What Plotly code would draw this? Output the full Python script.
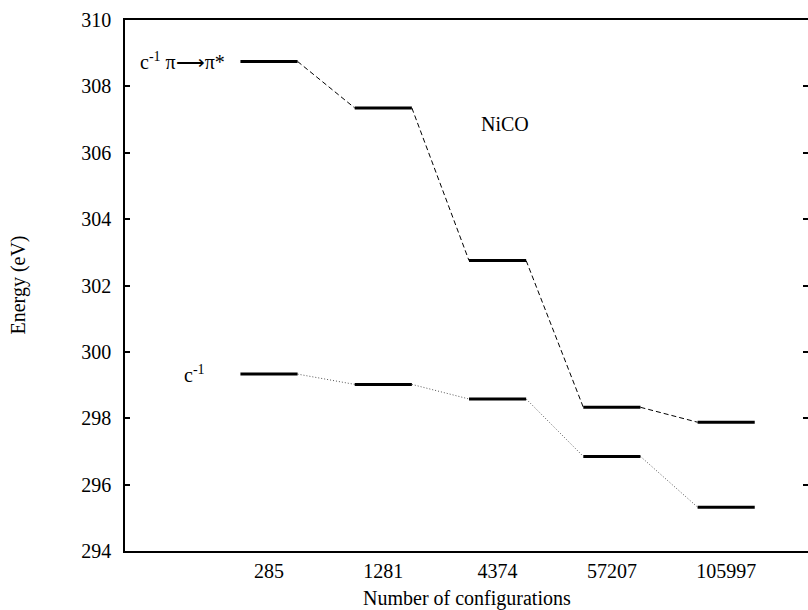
import plotly.graph_objects as go

configs = ["285", "1281", "4374", "57207", "105997"]
upper = [308.75, 307.35, 302.75, 298.33, 297.88]   # c^-1 pi->pi*
lower = [299.33, 299.02, 298.58, 296.85, 295.32]   # c^-1
ytick_vals = [294, 296, 298, 300, 302, 304, 306, 308, 310]

pos = list(range(1, len(configs) + 1))
hw = 0.25
FONT = "Liberation Serif"
FS = 20

fig = go.Figure()

def add_levels(vals, conn_dash, conn_color):
    for i in range(len(vals) - 1):
        fig.add_trace(go.Scatter(
            x=[pos[i] + hw, pos[i + 1] - hw], y=[vals[i], vals[i + 1]],
            mode="lines", line=dict(color=conn_color, width=1, dash=conn_dash),
            showlegend=False, hoverinfo="skip"))
    for p, v in zip(pos, vals):
        fig.add_trace(go.Scatter(
            x=[p - hw, p + hw], y=[v, v], mode="lines",
            line=dict(color="black", width=3), showlegend=False, hoverinfo="skip"))

add_levels(upper, "5px,3px", "black")
add_levels(lower, "1px,2px", "#555555")

fig.add_annotation(x=0.63, y=upper[0], xref="x", yref="y", xanchor="right", yanchor="middle",
                   text="c<sup>-1</sup> π⟶π*", showarrow=False,
                   font=dict(family=FONT, size=FS, color="black"))
fig.add_annotation(x=0.46, y=lower[0], xref="x", yref="y", xanchor="right", yanchor="middle",
                   text="c<sup>-1</sup>", showarrow=False,
                   font=dict(family=FONT, size=FS, color="black"))
fig.add_annotation(x=3.065, y=306.86, xref="x", yref="y", xanchor="center", yanchor="middle",
                   text="NiCO", showarrow=False,
                   font=dict(family=FONT, size=FS, color="black"))

# axis titles
fig.add_annotation(x=0.5, y=0, xref="paper", yref="paper", xanchor="center", yanchor="middle",
                   yshift=-47, text="Number of configurations", showarrow=False,
                   font=dict(family=FONT, size=FS, color="black"))
fig.add_annotation(x=0, y=0.5, xref="paper", yref="paper", xanchor="center", yanchor="middle",
                   xshift=-107, textangle=-90, text="Energy (eV)", showarrow=False,
                   font=dict(family=FONT, size=FS, color="black"))

fig.update_xaxes(range=[-0.26, 5.716], tickvals=pos, ticktext=configs,
                 showgrid=False, zeroline=False, showline=True, linecolor="black",
                 linewidth=1.5, mirror=True, ticks="", ticklabelstandoff=1,
                 automargin=False,
                 tickfont=dict(family=FONT, size=FS, color="black"))
fig.update_yaxes(range=[294, 310], tickvals=ytick_vals,
                 showgrid=False, zeroline=False, showline=True, linecolor="black",
                 linewidth=1.5, mirror="ticks", ticks="inside", ticklen=5, tickwidth=1.5,
                 tickcolor="black", ticklabelstandoff=8, automargin=False,
                 tickfont=dict(family=FONT, size=FS, color="black"))

fig.update_layout(width=808, height=610, margin=dict(l=125, r=0, t=20, b=59),
                  paper_bgcolor="white", plot_bgcolor="white",
                  font=dict(family=FONT, color="black"))

fig.write_html("out.html", config={"displayModeBar": False},
               post_script="document.body.style.margin='0';")
